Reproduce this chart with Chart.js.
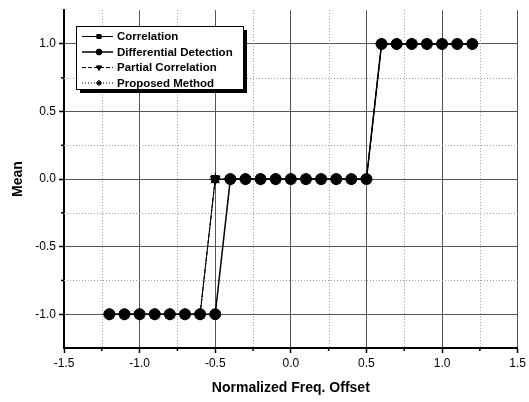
<!DOCTYPE html>
<html>
<head>
<meta charset="utf-8">
<script src="https://cdn.jsdelivr.net/npm/chart.js@4.4.1/dist/chart.umd.min.js"></script>
<style>
  html, body { margin: 0; padding: 0; background: #fff; }
  #wrap { width: 529px; height: 402px; position: relative; }
</style>
</head>
<body>
<div id="wrap"><canvas id="c"></canvas></div>
<script>
// ---- data ----
const xValues      = [-1.2, -1.1, -1.0, -0.9, -0.8, -0.7, -0.6, -0.5, -0.4, -0.3, -0.2, -0.1, 0.0, 0.1, 0.2, 0.3, 0.4, 0.5, 0.6, 0.7, 0.8, 0.9, 1.0, 1.1, 1.2];
const correlation  = [-1, -1, -1, -1, -1, -1, -1, 0, 0, 0, 0, 0, 0, 0, 0, 0, 0, 0, 1, 1, 1, 1, 1, 1, 1];
const differential = [-1, -1, -1, -1, -1, -1, -1, -1, 0, 0, 0, 0, 0, 0, 0, 0, 0, 0, 1, 1, 1, 1, 1, 1, 1];
const partialCorr  = [-1, -1, -1, -1, -1, -1, -1, 0, 0, 0, 0, 0, 0, 0, 0, 0, 0, 0, 1, 1, 1, 1, 1, 1, 1];
const proposed     = [-1, -1, -1, -1, -1, -1, -1, 0, 0, 0, 0, 0, 0, 0, 0, 0, 0, 0, 1, 1, 1, 1, 1, 1, 1];
const seriesNames  = ['Correlation', 'Differential Detection', 'Partial Correlation', 'Proposed Method'];
const xTicks       = [-1.5, -1.0, -0.5, 0.0, 0.5, 1.0, 1.5];
const yTicks       = [-1.0, -0.5, 0.0, 0.5, 1.0];
const xMinorTicks  = [-1.25, -0.75, -0.25, 0.25, 0.75, 1.25];
const yMinorTicks  = [-0.75, -0.25, 0.25, 0.75];
const xTitle = 'Normalized Freq. Offset';
const yTitle = 'Mean';

const toPts = arr => xValues.map((x, i) => ({ x: x, y: arr[i] }));

const FONT = "'Liberation Sans', Arial, Helvetica, sans-serif";

const minorGrid = {
  id: 'minorGrid',
  beforeDatasetsDraw(chart) {
    const { ctx, chartArea: a, scales: { x, y } } = chart;
    ctx.save();
    ctx.strokeStyle = '#9a9a9a';
    ctx.lineWidth = 1;
    ctx.setLineDash([1, 2]);
    xMinorTicks.forEach(v => {
      const px = Math.round(x.getPixelForValue(v)) + 0.5;
      ctx.beginPath(); ctx.moveTo(px, a.top); ctx.lineTo(px, a.bottom); ctx.stroke();
    });
    yMinorTicks.forEach(v => {
      const py = Math.round(y.getPixelForValue(v)) + 0.5;
      ctx.beginPath(); ctx.moveTo(a.left, py); ctx.lineTo(a.right, py); ctx.stroke();
    });
    ctx.setLineDash([]);
    ctx.strokeStyle = '#000';
    ctx.lineWidth = 1.5;
    xMinorTicks.forEach(v => {
      const px = x.getPixelForValue(v);
      ctx.beginPath(); ctx.moveTo(px, a.bottom); ctx.lineTo(px, a.bottom + 3); ctx.stroke();
    });
    yMinorTicks.forEach(v => {
      const py = y.getPixelForValue(v);
      ctx.beginPath(); ctx.moveTo(a.left - 3, py); ctx.lineTo(a.left, py); ctx.stroke();
    });
    ctx.restore();
  }
};

function drawMarker(ctx, style, rotation, r, cx, cy) {
  if (Chart.helpers && Chart.helpers.drawPoint) {
    Chart.helpers.drawPoint(ctx, { pointStyle: style, rotation: rotation, radius: r, borderWidth: 1 }, cx, cy);
    ctx.fill();
    ctx.stroke();
  } else {
    ctx.beginPath(); ctx.arc(cx, cy, r, 0, Math.PI * 2); ctx.fill();
  }
}

const boxLegend = {
  id: 'boxLegend',
  afterDraw(chart) {
    const { ctx } = chart;
    const bx = 76, by = 26, bw = 167, bh = 63;
    ctx.save();
    ctx.fillStyle = '#000';
    ctx.fillRect(bx + 4, by + 4, bw, bh);
    ctx.fillStyle = '#fff';
    ctx.fillRect(bx, by, bw, bh);
    ctx.strokeStyle = '#000';
    ctx.lineWidth = 1;
    ctx.strokeRect(bx + 0.5, by + 0.5, bw, bh);
    chart.data.datasets.forEach((ds, i) => {
      const cy = by + 10.5 + i * 15.5;
      ctx.strokeStyle = '#000';
      ctx.lineWidth = ds.borderWidth;
      ctx.setLineDash(ds.borderDash || []);
      ctx.beginPath(); ctx.moveTo(82, cy); ctx.lineTo(113, cy); ctx.stroke();
      ctx.setLineDash([]);
      ctx.fillStyle = '#000';
      ctx.lineWidth = 1;
      drawMarker(ctx, ds.pointStyle, ds.pointRotation || 0, 2.8, 99, cy);
      ctx.fillStyle = '#000';
      ctx.font = "bold 11.5px " + FONT;
      ctx.textBaseline = 'middle';
      ctx.textAlign = 'left';
      ctx.fillText(ds.label, 117, cy + 0.5);
    });
    ctx.restore();
  }
};

const datasets = [
  { label: seriesNames[0], data: toPts(correlation), pointStyle: 'rect', pointRadius: 5, borderWidth: 1, borderDash: [], order: 1 },
  { label: seriesNames[1], data: toPts(differential), pointStyle: 'circle', pointRadius: 5.5, borderWidth: 1.5, borderDash: [], order: 0 },
  { label: seriesNames[2], data: toPts(partialCorr), pointStyle: 'triangle', pointRotation: 180, pointRadius: 5.5, borderWidth: 1, borderDash: [4, 2], order: 2 },
  { label: seriesNames[3], data: toPts(proposed), pointStyle: 'star', pointRadius: 6, borderWidth: 1, borderDash: [1, 2], order: 3 }
].map(d => Object.assign({
  showLine: true,
  borderColor: '#000',
  backgroundColor: '#000',
  pointBackgroundColor: '#000',
  pointBorderColor: '#000',
  pointBorderWidth: 1,
  tension: 0,
  fill: false
}, d));

new Chart(document.getElementById('c'), {
  type: 'scatter',
  data: { datasets: datasets },
  plugins: [minorGrid, boxLegend],
  options: {
    responsive: true,
    maintainAspectRatio: false,
    animation: false,
    layout: { padding: { left: 0, right: 9, top: 9, bottom: 0 } },
    plugins: { legend: { display: false }, tooltip: { enabled: false } },
    scales: {
      x: {
        type: 'linear',
        min: -1.5, max: 1.5,
        afterBuildTicks: s => { s.ticks = xTicks.map(v => ({ value: v })); },
        afterFit: s => { s.height = 54; },
        ticks: {
          callback: v => Number(v).toFixed(1),
          color: '#000',
          font: { family: FONT, size: 12 },
          padding: 3,
          maxRotation: 0,
          autoSkip: false
        },
        grid: { color: '#555', lineWidth: 1, tickLength: 5, tickColor: '#000', tickWidth: 1.5 },
        border: { display: true, color: '#000', width: 2 },
        title: {
          display: true,
          text: xTitle,
          color: '#000',
          font: { family: FONT, size: 14, weight: 'bold', lineHeight: 1.2 },
          padding: { top: 0, bottom: 5 }
        }
      },
      y: {
        type: 'linear',
        min: -1.25, max: 1.25,
        afterBuildTicks: s => { s.ticks = yTicks.map(v => ({ value: v })); },
        afterFit: s => { s.width = 64; },
        ticks: {
          callback: v => Number(v).toFixed(1),
          color: '#000',
          font: { family: FONT, size: 12 },
          padding: 3,
          autoSkip: false
        },
        grid: { color: '#555', lineWidth: 1, tickLength: 5, tickColor: '#000', tickWidth: 1.5 },
        border: { display: true, color: '#000', width: 2 },
        title: {
          display: true,
          text: yTitle,
          color: '#000',
          font: { family: FONT, size: 14, weight: 'bold', lineHeight: 1.2 },
          padding: { top: 10, bottom: 0 }
        }
      }
    }
  }
});
</script>
</body>
</html>
